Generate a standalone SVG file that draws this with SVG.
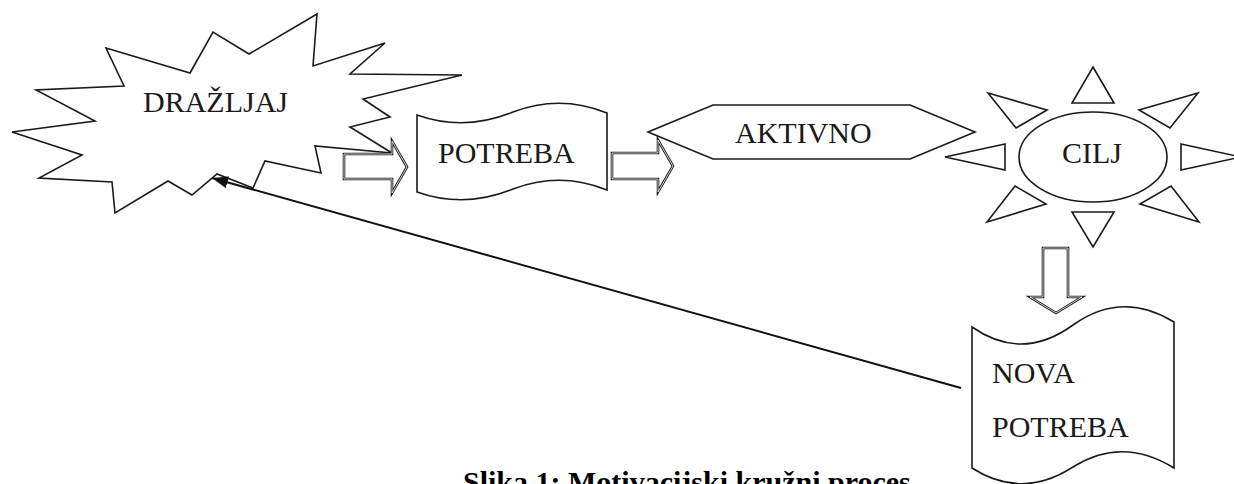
<svg xmlns="http://www.w3.org/2000/svg" width="1234" height="484" viewBox="0 0 1234 484">
<style>
.shape{fill:#fff;stroke:#1a1a1a;stroke-width:1.6;stroke-linejoin:miter}
.block{fill:#fff;stroke:#1a1a1a;stroke-width:2.6}
.blockin{fill:none;stroke:#fff;stroke-width:0.8}
.lbl{font-family:"Liberation Serif","Times New Roman",serif;font-size:30px;fill:#1a1a1a}
.cap{font-family:"Liberation Serif","Times New Roman",serif;font-size:30px;font-weight:bold;fill:#000}
.conn{fill:none;stroke:#111;stroke-width:2}
</style>
<defs>
<marker id="ah" markerUnits="userSpaceOnUse" markerWidth="18" markerHeight="12" refX="16" refY="6" orient="auto">
<path d="M0,0 L16,6 L0,12 Z" fill="#111"/>
</marker>
<polygon id="arr1" points="344,154 392,154 392,141 407,167 392,193 392,179 344,179"/>
<polygon id="arr2" points="612,153 658,153 658,140 673,166 658,192 658,179 612,179"/>
<polygon id="arr3" points="1043,248 1068,248 1068,297 1082,297 1056,313 1030,297 1043,297"/>
</defs>
<rect width="1234" height="484" fill="#fff"/>
<g id="drazljaj">
<polygon class="shape" points="106,48 190,73 213,32 249,54 317,14 313,66 385,43 350,74 462,75 363,99 390,117 350,127 392,153 315,146 321,173 265,161 253,188 217,174 192,195 168,181 115,213 112,182 39,178 82,155 12,132 95,121 36,90 124,86"/>
<text class="lbl" x="143" y="112">DRAŽLJAJ</text>
</g>
<g id="potreba">
<path class="shape" d="M417,115 Q465,132 513,112 Q560,94 607,113 L607,190 Q560,171 513,189 Q465,209 417,192 Z"/>
<text class="lbl" x="438" y="163">POTREBA</text>
</g>
<g id="aktivno">
<polygon class="shape" points="648,132 713,105 910,105 975,132 910,159 713,159"/>
<text class="lbl" x="735" y="143">AKTIVNO</text>
</g>
<g id="cilj">
<ellipse class="shape" cx="1093" cy="157" rx="74" ry="45"/>
<polygon class="shape" points="1093,67 1114,103 1072,103"/>
<polygon class="shape" points="1072,212 1114,212 1093,247"/>
<polygon class="shape" points="1005,144 1005,170 945,157"/>
<polygon class="shape" points="1181,144 1181,170 1241,157"/>
<polygon class="shape" points="988,93 1047,110 1016,128"/>
<polygon class="shape" points="987,222 1046,204 1015,186"/>
<polygon class="shape" points="1198,93 1139,110 1170,128"/>
<polygon class="shape" points="1199,222 1140,204 1171,186"/>
<text class="lbl" x="1092" y="163" text-anchor="middle">CILJ</text>
</g>
<g id="nova-potreba">
<path class="shape" d="M972,327 Q1022,362 1073,325 Q1122,290 1174,322 L1174,468 Q1122,436 1073,467 Q1022,500 972,468 Z"/>
<text class="lbl" x="992" y="383">NOVA</text>
<text class="lbl" x="992" y="437">POTREBA</text>
</g>
<g id="connectors">
<use href="#arr1" class="block"/><use href="#arr1" class="blockin"/>
<use href="#arr2" class="block"/><use href="#arr2" class="blockin"/>
<use href="#arr3" class="block"/><use href="#arr3" class="blockin"/>
<line class="conn" x1="961" y1="388" x2="212" y2="178" marker-end="url(#ah)"/>
</g>
<text class="cap" x="463" y="492">Slika 1: Motivacijski kružni proces</text>
</svg>
